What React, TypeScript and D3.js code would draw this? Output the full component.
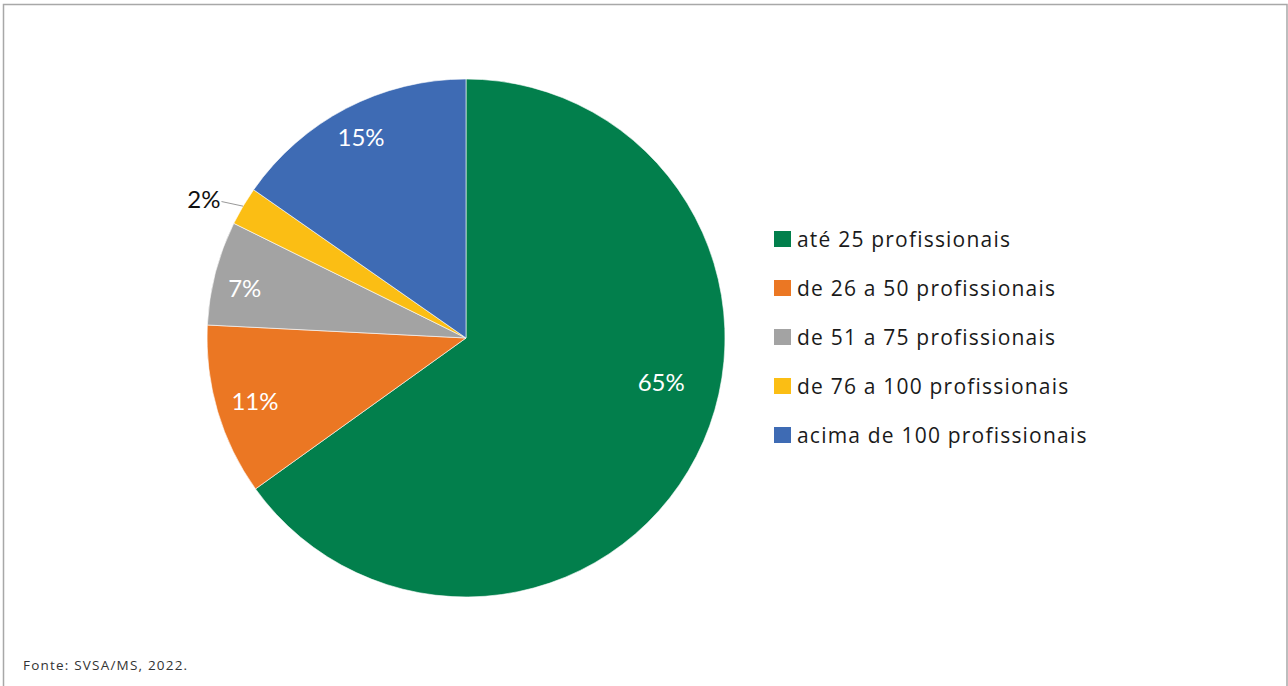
import React from "react";
import * as d3 from "d3";

const categories = [
  "até 25 profissionais",
  "de 26 a 50 profissionais",
  "de 51 a 75 profissionais",
  "de 76 a 100 profissionais",
  "acima de 100 profissionais",
];
const values = [65.1, 10.7, 6.5, 2.4, 15.3];
const colors = ["#027F4C", "#EB7723", "#A3A3A3", "#FBBE14", "#3E6BB4"];
const source = "Fonte: SVSA/MS, 2022.";

const W = 1288;
const H = 686;
const CX = 466;
const CY = 338;
const R = 259;
const FONT = "Lato, sans-serif";
const LFONT = "'Open Sans', sans-serif";

export default function App() {
  const pie = d3.pie<number>().sort(null).value((d) => d)(values);
  const arc = d3.arc<d3.PieArcDatum<number>>().innerRadius(0).outerRadius(R);
  const legendY = d3.scalePoint<number>().domain(d3.range(categories.length)).range([239, 435]);

  const pt = (angle: number, r: number) => [Math.sin(angle) * r, -Math.cos(angle) * r];

  return (
    <svg width={W} height={H} style={{ position: "absolute", left: 0, top: 0, background: "#fff" }}>
      <path d={`M3.5,${H} V4.5 H1287 V${H}`} fill="none" stroke="#a8a8a8" strokeWidth={1.5} />
      <g transform={`translate(${CX},${CY})`}>
        {pie.map((p, i) => (
          <path key={i} d={arc(p) || ""} fill={colors[i]} stroke="#fff" strokeWidth={0.6} />
        ))}
        {pie.map((p, i) => {
          const label = `${Math.round(values[i])}%`;
          const mid = (p.startAngle + p.endAngle) / 2;
          if (p.endAngle - p.startAngle < 0.2) {
            const [x1, y1] = pt(mid, R);
            const [x2, y2] = pt(mid - 0.025, R + 21);
            return (
              <g key={"l" + i}>
                <line x1={x1} y1={y1} x2={x2} y2={y2} stroke="#999" strokeWidth={1} />
                <text x={x2 - 1} y={y2 - 3} textAnchor="end" dominantBaseline="central"
                  fontFamily={FONT} fontSize={24} fill="#111">{label}</text>
              </g>
            );
          }
          // large slice: label pulled toward the start of the slice (best-fit style)
          const big = p.endAngle - p.startAngle > Math.PI;
          const a = big ? p.startAngle + (mid - p.startAngle) * 0.875 : mid - (i === 2 ? 0.03 : 0);
          const rr = big ? 200 : i === 1 ? 220 : 227;
          const [x, y] = pt(a, rr);
          return (
            <text key={"l" + i} x={x} y={y} textAnchor="middle" dominantBaseline="central"
              fontFamily={FONT} fontSize={24} fill="#fff">{label}</text>
          );
        })}
      </g>
      {categories.map((c, i) => (
        <g key={"g" + i} transform={`translate(774,${legendY(i)})`}>
          <rect x={0} y={-8} width={17} height={16} fill={colors[i]} />
          <text x={23} y={0} dominantBaseline="central" fontFamily={LFONT} fontSize={21} letterSpacing={1.2} fill="#1a1a1a">{c}</text>
        </g>
      ))}
      <text x={23} y={670} fontFamily={LFONT} fontSize={13.5} letterSpacing={1.2} fill="#333">{source}</text>
    </svg>
  );
}
